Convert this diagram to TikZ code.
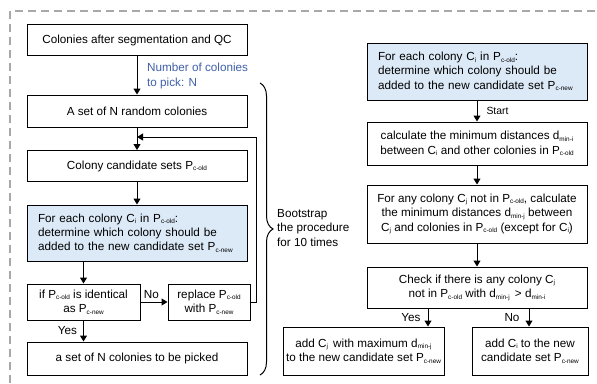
\documentclass[tikz,border=0pt]{standalone}
\usepackage{fontspec}
\setmainfont{Liberation Sans}
\usetikzlibrary{arrows.meta,decorations.pathreplacing}
\definecolor{boxblue}{HTML}{DCE9F7}
\definecolor{lblblue}{HTML}{3F5FA8}
\definecolor{dashgray}{HTML}{A8A8A8}
\newcommand{\sbx}[1]{\raisebox{-0.25ex}{\fontsize{6.4}{7}\selectfont #1}}
\tikzset{
  x=1pt, y=-1pt,
  every node/.style={font=\fontsize{11.7}{14.4}\selectfont},
  box/.style={draw, line width=1pt, inner sep=0pt, align=center},
  bluebox/.style={box, fill=boxblue, align=left, text width=198pt, inner xsep=11pt},
  arr/.style={line width=1pt, -{Triangle[length=6pt,width=7pt]}},
  lbl/.style={inner sep=0pt},
}
\begin{document}
\begin{tikzpicture}
\useasboundingbox (0,0) rectangle (597,383);
% dashed frame
\draw[dashgray, line width=1.3pt, dash pattern=on 8pt off 5pt] (10,383) -- (10,11) -- (597,11);

% left column
\node[box, minimum width=220pt, minimum height=31pt] (b1) at (137,40) {Colonies after segmentation and QC};
\node[box, minimum width=220pt, minimum height=32pt] (b2) at (137,111) {A set of N random colonies};
\node[box, minimum width=220pt, minimum height=31pt] (b3) at (137,166) {Colony candidate sets P\sbx{c-old}};
\node[bluebox, minimum height=56pt] (b4) at (137,233) {For each colony C\sbx{i} in P\sbx{c-old}:\\determine which colony should be\\added to the new candidate set P\sbx{c-new}};
\node[box, minimum width=113pt, minimum height=36pt] (b5) at (83.5,302) {if P\sbx{c-old} is identical\\as P\sbx{c-new}};
\node[box, minimum width=82pt, minimum height=36pt] (b6) at (209,302) {replace P\sbx{c-old}\\with P\sbx{c-new}};
\node[box, minimum width=220pt, minimum height=33pt] (b7) at (137,358.5) {a set of N colonies to be picked};

\draw[arr] (b1) -- (b2);
\node[lbl, lblblue, anchor=west, align=left] (nlab) at (147,76) {Number of colonies\\to pick: N};
\draw[arr] (b2) -- (b3);
\draw[arr] (b3) -- (b4);
\draw[arr] (b4.south -| b5.north) -- (b5.north);
\draw[arr] (b5) -- (b6) node[lbl, pos=0.4, above=3pt] (nolab) {No};
\draw[arr] (b5.south) -- (b5.south |- b7.north) node[lbl, midway, left=6pt] (yeslab) {Yes};
\coordinate (fb) at (137,137);
\draw[arr] (b6.east) -- ++(6,0) |- (fb);

% brace
\coordinate (brt) at (260,83);
\coordinate (brb) at (260,375);
\draw[line width=1pt, decorate, decoration={brace, amplitude=13pt}] (brt) -- (brb);
\node[lbl, anchor=west, align=left] (boot) at (277,228) {Bootstrap\\the procedure\\for 10 times};

% right column
\node[bluebox, minimum height=57pt] (r1) at (477,71.5) {For each colony C\sbx{i} in P\sbx{c-old}:\\determine which colony should be\\added to the new candidate set P\sbx{c-new}};
\node[box, minimum width=220pt, minimum height=43pt] (r2) at (477,143.5) {calculate the minimum distances d\sbx{min-i}\\between C\sbx{i} and other colonies in P\sbx{c-old}};
\node[box, minimum width=220pt, minimum height=58pt] (r3) at (477,214) {For any colony C\sbx{j} not in P\sbx{c-old}, calculate\\the minimum distances d\sbx{min-j} between\\C\sbx{j} and colonies in P\sbx{c-old} (except for C\sbx{i})};
\node[box, minimum width=220pt, minimum height=41pt] (r4) at (477,287.5) {Check if there is any colony C\sbx{j}\\not in P\sbx{c-old} with d\sbx{min-j} \,> d\sbx{min-i}};
\node[box, minimum width=161pt, minimum height=48pt] (r5) at (363.5,351) {add C\sbx{j} \,with maximum d\sbx{min-j}\\to the new candidate set P\sbx{c-new}};
\node[box, minimum width=116pt, minimum height=48pt] (r6) at (530,351) {add C\sbx{i} to the new\\candidate set P\sbx{c-new}};

\draw[arr] (r1) -- (r2) node[lbl, midway, right=9pt, font=\fontsize{10.4}{12}\selectfont] (startlab) {Start};
\draw[arr] (r2) -- (r3);
\draw[arr] (r3) -- (r4);
\coordinate (ya) at (428,0);
\coordinate (na) at (529,0);
\draw[arr] (r4.south -| ya) -- (r5.north -| ya) node[lbl, midway, left=7pt] (yes2) {Yes};
\draw[arr] (r4.south -| na) -- (r6.north -| na) node[lbl, midway, left=9pt] (no2) {No};
\end{tikzpicture}
\end{document}
